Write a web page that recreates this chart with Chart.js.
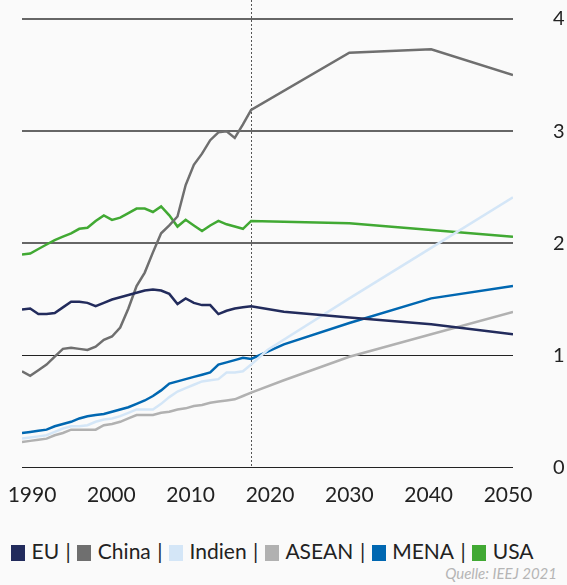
<!DOCTYPE html>
<html>
<head>
<meta charset="utf-8">
<script src="https://cdn.jsdelivr.net/npm/chart.js@4"></script>
<style>
  html, body { margin: 0; padding: 0; background: #fafafa; }
  #wrap { position: relative; width: 567px; height: 585px; font-family: Lato, sans-serif; }
  #myChart { position: absolute; left: 0; top: 0; }
  #legend { position: absolute; left: 11px; top: 536px; font-size: 21px; color: #222; white-space: nowrap; line-height: 30px; }
  .sq { display: inline-block; width: 14px; height: 16px; margin-right: 6.5px; vertical-align: -2px; }
  .sep { margin: 0 6.5px; }
  #source { position: absolute; right: 10px; top: 564px; font-size: 15px; font-style: italic; color: #b5b5b5; }
</style>
</head>
<body>
<div id="wrap">
  <canvas id="myChart" width="567" height="520"></canvas>
  <div id="legend"></div>
  <div id="source">Quelle: IEEJ 2021</div>
</div>
<script>
// years: annual history 1990-2018, then projection points
const years = [
  1990, 1991, 1992, 1993, 1994, 1995, 1996, 1997, 1998, 1999,
  2000, 2001, 2002, 2003, 2004, 2005, 2006, 2007, 2008, 2009,
  2010, 2011, 2012, 2013, 2014, 2015, 2016, 2017, 2018,
  2020, 2022, 2030, 2040, 2050,
];

const eu = [
  1.41, 1.42, 1.37, 1.37, 1.38, 1.43, 1.48, 1.48, 1.47, 1.44,
  1.47, 1.50, 1.52, 1.54, 1.56, 1.58, 1.59, 1.58, 1.55, 1.46,
  1.51, 1.47, 1.45, 1.45, 1.37, 1.40, 1.42, 1.43, 1.44,
  null, 1.39, 1.34, 1.28, 1.19,
];
const china = [
  0.86, 0.82, 0.87, 0.92, 0.99, 1.06, 1.07, 1.06, 1.05, 1.08,
  1.14, 1.17, 1.25, 1.42, 1.62, 1.74, 1.92, 2.09, 2.16, 2.24,
  2.52, 2.70, 2.80, 2.92, 2.99, 3.00, 2.94, 3.06, 3.19,
  null, null, 3.70, 3.73, 3.50,
];
const indien = [
  0.26, 0.27, 0.28, 0.29, 0.32, 0.35, 0.37, 0.37, 0.38, 0.41,
  0.43, 0.44, 0.46, 0.49, 0.52, 0.52, 0.52, 0.57, 0.63, 0.68,
  0.71, 0.74, 0.77, 0.78, 0.79, 0.85, 0.85, 0.86, 0.92,
  1.05, null, 1.51, 1.96, 2.41,
];
const asean = [
  0.23, 0.24, 0.25, 0.26, 0.29, 0.31, 0.34, 0.34, 0.34, 0.34,
  0.38, 0.39, 0.41, 0.44, 0.47, 0.47, 0.47, 0.49, 0.50, 0.52,
  0.53, 0.55, 0.56, 0.58, 0.59, 0.60, 0.61, 0.64, 0.67,
  null, 0.78, 0.99, 1.19, 1.39,
];
const mena = [
  0.31, 0.32, 0.33, 0.34, 0.37, 0.39, 0.41, 0.44, 0.46, 0.47,
  0.48, 0.50, 0.52, 0.54, 0.57, 0.60, 0.64, 0.69, 0.75, 0.77,
  0.79, 0.81, 0.83, 0.85, 0.92, 0.94, 0.96, 0.98, 0.97,
  null, 1.10, 1.29, 1.51, 1.62,
];
const usa = [
  1.90, 1.91, 1.95, 1.99, 2.03, 2.06, 2.09, 2.13, 2.14, 2.20,
  2.25, 2.21, 2.23, 2.27, 2.31, 2.31, 2.28, 2.33, 2.25, 2.15,
  2.21, 2.16, 2.11, 2.16, 2.20, 2.17, 2.15, 2.13, 2.20,
  null, null, 2.18, 2.12, 2.06,
];

const seriesNames = ["EU", "China", "Indien", "ASEAN", "MENA", "USA"];
const seriesValues = [eu, china, indien, asean, mena, usa];
const seriesColors = ["#222b5c", "#6f6f6f", "#d4e6f7", "#b1b1b1", "#0067b1", "#41a933"];

const xTickYears = [1990, 2000, 2010, 2020, 2030, 2040, 2050];
const yTicks = [0, 1, 2, 3, 4];
const markerYear = 2018;

Chart.defaults.font.family = "Lato";
Chart.defaults.color = "#222";

// dotted line at the last historical year
const markerLine = {
  id: "markerLine",
  beforeDatasetsDraw(chart) {
    const { ctx, chartArea, scales } = chart;
    const x = Math.round(scales.x.getPixelForValue(markerYear)) + 0.5;
    ctx.save();
    ctx.strokeStyle = "#555";
    ctx.lineWidth = 1;
    ctx.setLineDash([2, 2]);
    ctx.beginPath();
    ctx.moveTo(x, 0);
    ctx.lineTo(x, chartArea.bottom);
    ctx.stroke();
    ctx.restore();
  },
};

const ctx = document.getElementById("myChart");

new Chart(ctx, {
  type: "line",
  data: {
    datasets: seriesNames.map((name, i) => ({
      label: name,
      data: years.map((yr, j) => ({ x: yr, y: seriesValues[i][j] })),
      borderColor: seriesColors[i],
      backgroundColor: seriesColors[i],
      borderWidth: 2.5,
      pointRadius: 0,
      tension: 0,
      spanGaps: true,
    })),
  },
  options: {
    responsive: false,
    animation: false,
    events: [],
    layout: { padding: { top: 19, left: 22, right: 0, bottom: 12 } },
    plugins: { legend: { display: false }, tooltip: { enabled: false } },
    scales: {
      x: { type: "linear", min: 1990, max: 2050, display: false },
      xLabels: {
        type: "linear",
        position: "bottom",
        min: 1988.74,
        max: 2050.63,
        grid: {
          display: true,
          drawOnChartArea: false,
          drawTicks: true,
          tickLength: 15,
          color: "transparent",
          tickColor: "transparent",
        },
        border: { display: false },
        afterBuildTicks: (scale) => {
          scale.ticks = xTickYears.map((v) => ({ value: v }));
        },
        ticks: {
          padding: 0,
          maxRotation: 0,
          autoSkip: false,
          font: { size: 21 },
          color: "#222",
          callback: (v) => String(v),
        },
      },
      y: {
        position: "right",
        min: 0,
        max: 4,
        afterBuildTicks: (scale) => {
          scale.ticks = yTicks.map((v) => ({ value: v }));
        },
        afterFit: (scale) => {
          scale.width = 54;
        },
        grid: {
          color: (c) => (c.tick && c.tick.value >= 2 ? "#666" : "#222"),
          lineWidth: (c) => (c.tick && c.tick.value >= 2 ? 2 : 1),
          drawTicks: true,
          tickLength: 40,
          tickColor: "transparent",
        },
        border: { display: false },
        ticks: {
          padding: 0,
          crossAlign: "near",
          font: { size: 20 },
          color: "#222",
        },
      },
    },
  },
  plugins: [markerLine],
});

// legend: square + name, separated by pipes
const legend = document.getElementById("legend");
legend.innerHTML = seriesNames
  .map((n, i) => '<span class="sq" style="background:' + seriesColors[i] + '"></span>' + n)
  .join('<span class="sep">|</span>');
</script>
</body>
</html>
